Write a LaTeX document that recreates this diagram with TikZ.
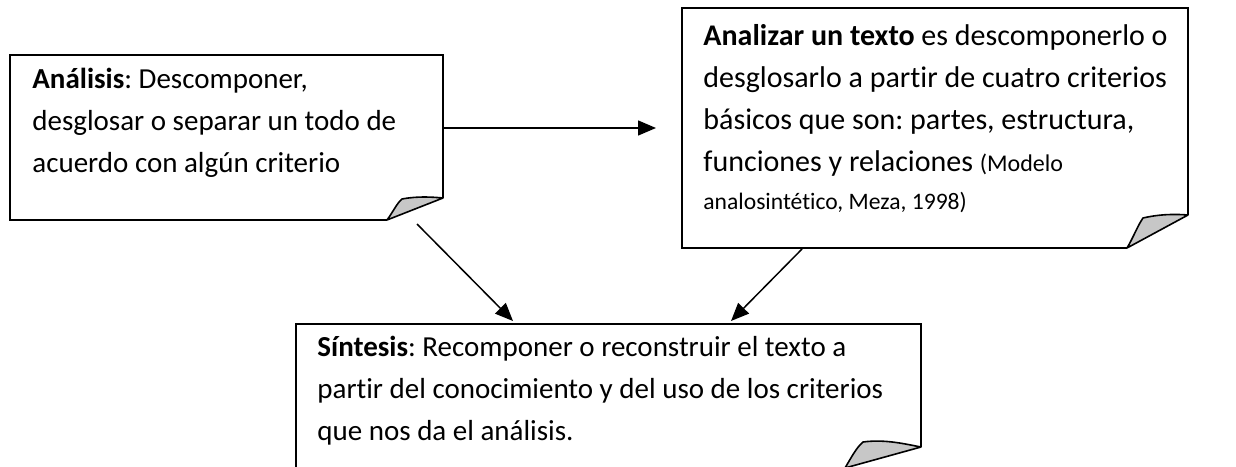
\documentclass[tikz,border=0pt]{standalone}
\usepackage{fontspec}
\setmainfont{Carlito}[Ligatures=NoCommon]
\usetikzlibrary{arrows.meta}
\frenchspacing
\begin{document}
\begin{tikzpicture}[x=0.5pt,y=-0.5pt,
  boxline/.style={line width=1pt, line join=miter},
  foldfill/.style={fill=black!22, draw=black, line width=0.8pt, line join=round},
  txt/.style={anchor=north west, inner sep=0pt, align=left, font=\fontsize{14.5}{21}\selectfont},
  txtb/.style={txt, font=\fontsize{15}{21}\selectfont},
  arr/.style={line width=0.75pt, -{Triangle[length=9pt,width=7.5pt]}}]
\useasboundingbox (0,0) rectangle (1236,466);

% Box 1: Analisis
\draw[boxline] (387,220) -- (10,220) -- (10,55) -- (443,55) -- (443,198);
\draw[foldfill] (387,220) .. controls (393,212) and (397,203) .. (402,199) .. controls (418,196) and (432,197) .. (443,198) -- cycle;
\node[txt] (t1) at (32,62) {\rule{0pt}{13pt}\textbf{Análisis}: Descomponer,\\ desglosar o separar un todo de\\ acuerdo con algún criterio};

% Box 2: Analizar un texto
\draw[boxline] (1127,248) -- (682,248) -- (682,8) -- (1188,8) -- (1188,215);
\draw[foldfill] (1127,248) .. controls (1133,238) and (1138,225) .. (1143,218) .. controls (1160,214) and (1176,214) .. (1188,215) -- cycle;
\node[txtb] (t2) at (703,19) {\rule{0pt}{13pt}\textbf{Analizar un texto} es descomponerlo o\\ desglosarlo a partir de cuatro criterios\\ básicos que son: partes, estructura,\\ funciones y relaciones {\fontsize{12}{21}\selectfont (Modelo}\\[-2pt] {\fontsize{11.8}{21}\selectfont analosintético, Meza, 1998)}};

% Box 3: Sintesis
\draw[boxline] (845,468) -- (296,468) -- (296,324) -- (921,324) -- (921,447);
\draw[foldfill] (845,468) .. controls (851,458) and (856,448) .. (863,442) .. controls (885,439) and (905,444) .. (921,447) -- cycle;
\begin{scope}
\clip (0,0) rectangle (1236,444);
\node[txt] (t3) at (317,330) {\rule{0pt}{13pt}\textbf{Síntesis}: Recomponer o reconstruir el texto a\\ partir del conocimiento y del uso de los criterios\\ que nos da el análisis.};
\end{scope}

% Connectors
\coordinate (h1) at (443,128);
\coordinate (h2) at (656,128);
\coordinate (d1s) at (417,224);
\coordinate (d1e) at (513,321);
\coordinate (d2s) at (802,249);
\coordinate (d2e) at (731,321);
\draw[arr] (h1) -- (h2);
\draw[arr] (d1s) -- (d1e);
\draw[arr] (d2s) -- (d2e);
\end{tikzpicture}
\end{document}
